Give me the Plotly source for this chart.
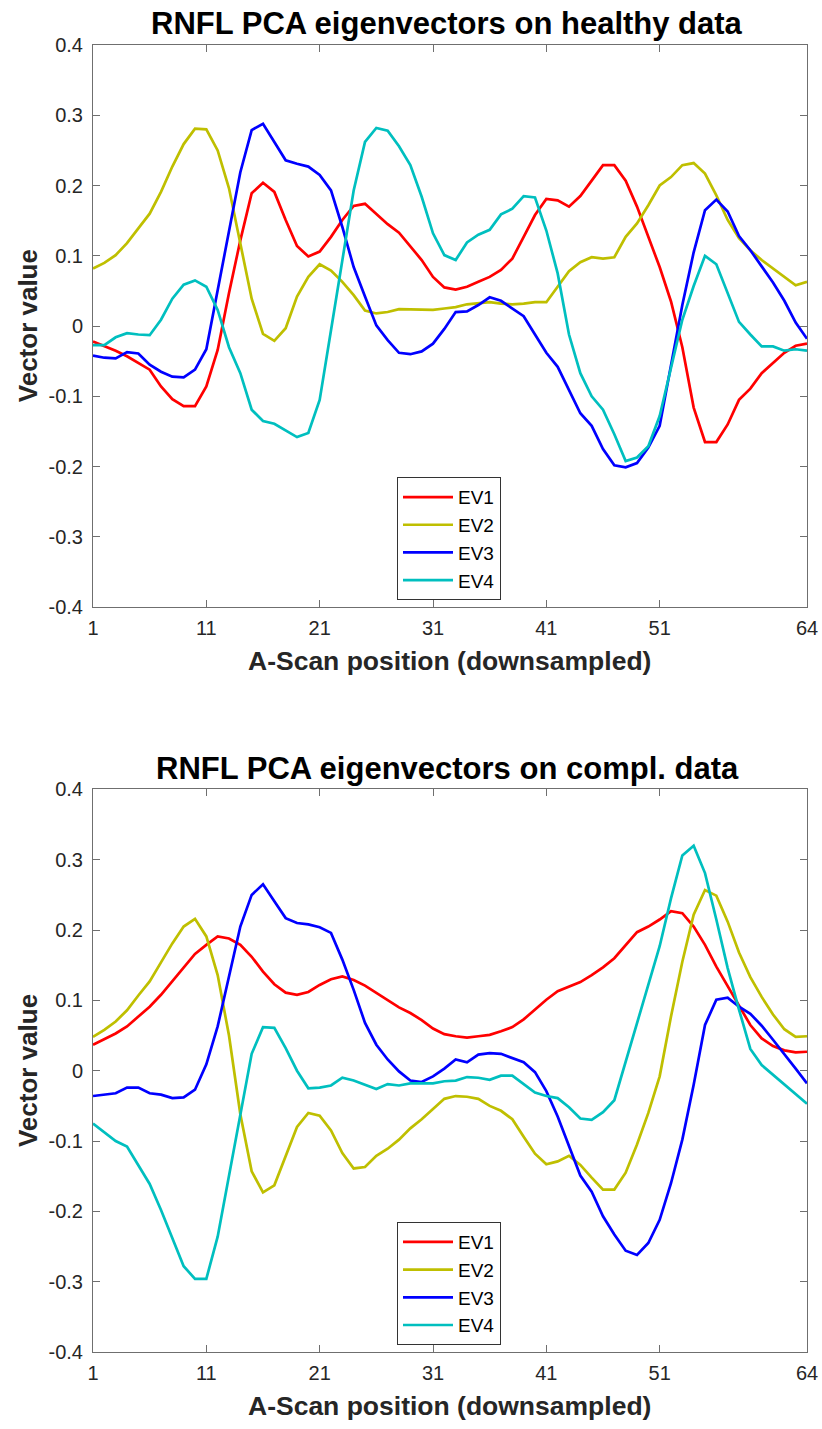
import plotly.graph_objects as go

# A-scan positions (downsampled)
positions = list(range(1, 65))

# Eigenvectors computed on healthy data
healthy_ev1 = [-0.022, -0.028, -0.035, -0.043, -0.053, -0.062, -0.086, -0.104, -0.114, -0.114,
               -0.086, -0.034, 0.047, 0.122, 0.189, 0.204, 0.191, 0.151, 0.114, 0.099,
               0.106, 0.127, 0.151, 0.171, 0.174, 0.160, 0.145, 0.133, 0.114, 0.094,
               0.070, 0.055, 0.052, 0.056, 0.063, 0.070, 0.080, 0.096, 0.127, 0.158,
               0.181, 0.179, 0.170, 0.185, 0.207, 0.229, 0.229, 0.207, 0.170, 0.127,
               0.084, 0.035, -0.030, -0.116, -0.165, -0.165, -0.140, -0.105, -0.089, -0.067,
               -0.052, -0.038, -0.028, -0.025]
healthy_ev2 = [0.082, 0.090, 0.101, 0.118, 0.139, 0.160, 0.191, 0.227, 0.259, 0.281,
               0.280, 0.250, 0.196, 0.120, 0.039, -0.011, -0.021, -0.003, 0.042, 0.070,
               0.088, 0.079, 0.063, 0.044, 0.022, 0.018, 0.020, 0.024, 0.024, 0.023,
               0.023, 0.025, 0.027, 0.031, 0.032, 0.034, 0.032, 0.031, 0.032, 0.034,
               0.034, 0.056, 0.078, 0.091, 0.098, 0.096, 0.098, 0.127, 0.146, 0.172,
               0.200, 0.212, 0.229, 0.232, 0.217, 0.186, 0.151, 0.125, 0.108, 0.094,
               0.082, 0.070, 0.058, 0.063]
healthy_ev3 = [-0.042, -0.045, -0.046, -0.037, -0.039, -0.055, -0.065, -0.072, -0.073, -0.062,
               -0.033, 0.050, 0.137, 0.219, 0.279, 0.288, 0.262, 0.236, 0.231, 0.227,
               0.215, 0.193, 0.141, 0.084, 0.042, 0.001, -0.020, -0.038, -0.040, -0.036,
               -0.025, -0.004, 0.020, 0.021, 0.030, 0.041, 0.036, 0.025, 0.014, -0.012,
               -0.038, -0.058, -0.091, -0.124, -0.142, -0.175, -0.198, -0.201, -0.195, -0.173,
               -0.142, -0.055, 0.030, 0.105, 0.165, 0.180, 0.163, 0.128, 0.108, 0.085,
               0.062, 0.036, 0.005, -0.018]
healthy_ev4 = [-0.027, -0.027, -0.016, -0.010, -0.012, -0.013, 0.009, 0.039, 0.059, 0.065,
               0.056, 0.023, -0.030, -0.067, -0.119, -0.135, -0.139, -0.149, -0.158, -0.152,
               -0.105, -0.006, 0.095, 0.193, 0.262, 0.282, 0.278, 0.256, 0.229, 0.184,
               0.132, 0.101, 0.094, 0.119, 0.130, 0.137, 0.159, 0.167, 0.185, 0.183,
               0.136, 0.075, -0.012, -0.067, -0.100, -0.119, -0.154, -0.192, -0.187, -0.171,
               -0.128, -0.058, 0.009, 0.057, 0.100, 0.088, 0.047, 0.006, -0.012, -0.029,
               -0.029, -0.035, -0.033, -0.035]

# Eigenvectors computed on the complementary data
compl_ev1 = [0.037, 0.045, 0.053, 0.063, 0.077, 0.091, 0.108, 0.127, 0.146, 0.166,
             0.179, 0.191, 0.188, 0.179, 0.162, 0.141, 0.123, 0.111, 0.108, 0.112,
             0.122, 0.130, 0.134, 0.129, 0.121, 0.111, 0.100, 0.090, 0.082, 0.072,
             0.060, 0.052, 0.049, 0.047, 0.049, 0.051, 0.056, 0.062, 0.073, 0.087,
             0.101, 0.113, 0.120, 0.126, 0.136, 0.147, 0.160, 0.179, 0.197, 0.205,
             0.215, 0.227, 0.224, 0.205, 0.179, 0.148, 0.120, 0.091, 0.065, 0.046,
             0.035, 0.029, 0.026, 0.027]
compl_ev2 = [0.048, 0.058, 0.070, 0.086, 0.107, 0.127, 0.154, 0.181, 0.205, 0.216,
             0.191, 0.136, 0.050, -0.062, -0.143, -0.173, -0.163, -0.121, -0.080, -0.060,
             -0.064, -0.085, -0.117, -0.139, -0.137, -0.121, -0.111, -0.098, -0.082, -0.069,
             -0.055, -0.040, -0.036, -0.037, -0.040, -0.050, -0.057, -0.069, -0.094, -0.118,
             -0.133, -0.129, -0.121, -0.134, -0.152, -0.169, -0.169, -0.145, -0.105, -0.060,
             -0.008, 0.077, 0.155, 0.222, 0.257, 0.249, 0.212, 0.168, 0.133, 0.105,
             0.080, 0.059, 0.048, 0.049]
compl_ev3 = [-0.036, -0.034, -0.032, -0.024, -0.024, -0.032, -0.034, -0.039, -0.038, -0.027,
             0.009, 0.063, 0.134, 0.205, 0.250, 0.265, 0.241, 0.217, 0.210, 0.208,
             0.204, 0.196, 0.158, 0.115, 0.068, 0.037, 0.016, -0.001, -0.014, -0.016,
             -0.008, 0.003, 0.016, 0.012, 0.023, 0.025, 0.024, 0.018, 0.012, -0.002,
             -0.029, -0.065, -0.108, -0.149, -0.172, -0.207, -0.233, -0.256, -0.262, -0.245,
             -0.212, -0.160, -0.098, -0.020, 0.065, 0.101, 0.104, 0.091, 0.081, 0.064,
             0.044, 0.024, 0.003, -0.018]
compl_ev4 = [-0.075, -0.088, -0.100, -0.108, -0.134, -0.161, -0.198, -0.238, -0.278, -0.296,
             -0.296, -0.236, -0.150, -0.063, 0.024, 0.062, 0.061, 0.032, 0.000, -0.025,
             -0.024, -0.021, -0.010, -0.014, -0.020, -0.026, -0.019, -0.021, -0.018, -0.018,
             -0.018, -0.015, -0.014, -0.009, -0.010, -0.013, -0.007, -0.007, -0.019, -0.031,
             -0.036, -0.039, -0.052, -0.068, -0.070, -0.059, -0.042, 0.013, 0.069, 0.123,
             0.177, 0.245, 0.306, 0.320, 0.281, 0.215, 0.146, 0.087, 0.031, 0.008,
             -0.006, -0.020, -0.034, -0.047]

series_names = ["EV1", "EV2", "EV3", "EV4"]
series_colors = ["#FF0000", "#BFBF00", "#0000FF", "#00BFBF"]

x_tick_vals = [1, 11, 21, 31, 41, 51, 64]
y_tick_vals = [0.4, 0.3, 0.2, 0.1, 0.0, -0.1, -0.2, -0.3, -0.4]
y_tick_text = ["0.4", "0.3", "0.2", "0.1", "0", "-0.1", "-0.2", "-0.3", "-0.4"]

titles = ["RNFL PCA eigenvectors on healthy data", "RNFL PCA eigenvectors on compl. data"]
x_label = "A-Scan position (downsampled)"
y_label = "Vector value"

# Page geometry (pixels)
W, H = 822, 1429
PLOT_L, PLOT_R = 93, 807
PLOT_T, PLOT_B = 44.7, 1352
FONT = "Liberation Sans, Arial, Helvetica, sans-serif"
TEXT = "#000000"
AXIS = "#6f6f6f"


def py(ypix):
    """Pixel row -> paper y coordinate."""
    return (PLOT_B - ypix) / (PLOT_B - PLOT_T)


def px(xpix):
    """Pixel column -> paper x coordinate."""
    return (xpix - PLOT_L) / (PLOT_R - PLOT_L)


fig = go.Figure()

panels = [
    ([healthy_ev1, healthy_ev2, healthy_ev3, healthy_ev4], "x", "y", "legend"),
    ([compl_ev1, compl_ev2, compl_ev3, compl_ev4], "x2", "y2", "legend2"),
]
for values, xa, ya, leg in panels:
    for name, color, ys in zip(series_names, series_colors, values):
        fig.add_trace(go.Scatter(
            x=positions, y=ys, mode="lines", name=name,
            line=dict(color=color, width=2.7),
            xaxis=xa, yaxis=ya, legend=leg,
        ))

axis_common = dict(
    showline=True, mirror="ticks", linecolor=AXIS, linewidth=1,
    ticks="inside", ticklen=7, tickcolor=AXIS, tickwidth=1,
    showgrid=False, zeroline=False, automargin=False,
    tickfont=dict(family=FONT, size=20, color="#262626"),
)

top_domain = [py(607), 1.0]
bottom_domain = [0.0, py(789.3)]

fig.update_layout(
    width=W, height=H,
    margin=dict(l=PLOT_L, r=W - PLOT_R, t=PLOT_T, b=H - PLOT_B, pad=0, autoexpand=False),
    paper_bgcolor="white", plot_bgcolor="white",
    showlegend=True,
    xaxis=dict(range=[1, 64], tickvals=x_tick_vals, domain=[0, 1], anchor="y",
               ticklabelstandoff=3, **axis_common),
    yaxis=dict(range=[-0.4, 0.4], tickvals=y_tick_vals, ticktext=y_tick_text,
               domain=top_domain, anchor="x", ticklabelstandoff=5, **axis_common),
    xaxis2=dict(range=[1, 64], tickvals=x_tick_vals, domain=[0, 1], anchor="y2",
                ticklabelstandoff=3, **axis_common),
    yaxis2=dict(range=[-0.4, 0.4], tickvals=y_tick_vals, ticktext=y_tick_text,
                domain=bottom_domain, anchor="x2", ticklabelstandoff=5, **axis_common),
)

legend_style = dict(
    xanchor="left", yanchor="top",
    bgcolor="white", bordercolor="#333333", borderwidth=1,
    font=dict(family=FONT, size=19, color=TEXT),
    itemwidth=50, tracegroupgap=0,
)
fig.update_layout(
    legend=dict(x=px(397), y=py(477), **legend_style),
    legend2=dict(x=px(397), y=py(1222), **legend_style),
)

annotations = []
for title, title_y, axis_mid, xlab_y in [
    (titles[0], 23, 326, 661),
    (titles[1], 768, 1071, 1406),
]:
    annotations.append(dict(
        text=title, x=px(447), y=py(title_y), xref="paper", yref="paper",
        xanchor="center", yanchor="middle", showarrow=False,
        font=dict(family=FONT, size=31, color=TEXT, weight="bold"),
    ))
    annotations.append(dict(
        text=x_label, x=px(449), y=py(xlab_y), xref="paper", yref="paper",
        xanchor="center", yanchor="middle", showarrow=False,
        font=dict(family=FONT, size=26.5, color="#262626", weight="bold"),
    ))
    annotations.append(dict(
        text=y_label, x=px(28), y=py(axis_mid), xref="paper", yref="paper",
        xanchor="center", yanchor="middle", showarrow=False, textangle=-90,
        font=dict(family=FONT, size=26, color="#262626", weight="bold"),
    ))
fig.update_layout(annotations=annotations)

fig.write_html("out.html")
